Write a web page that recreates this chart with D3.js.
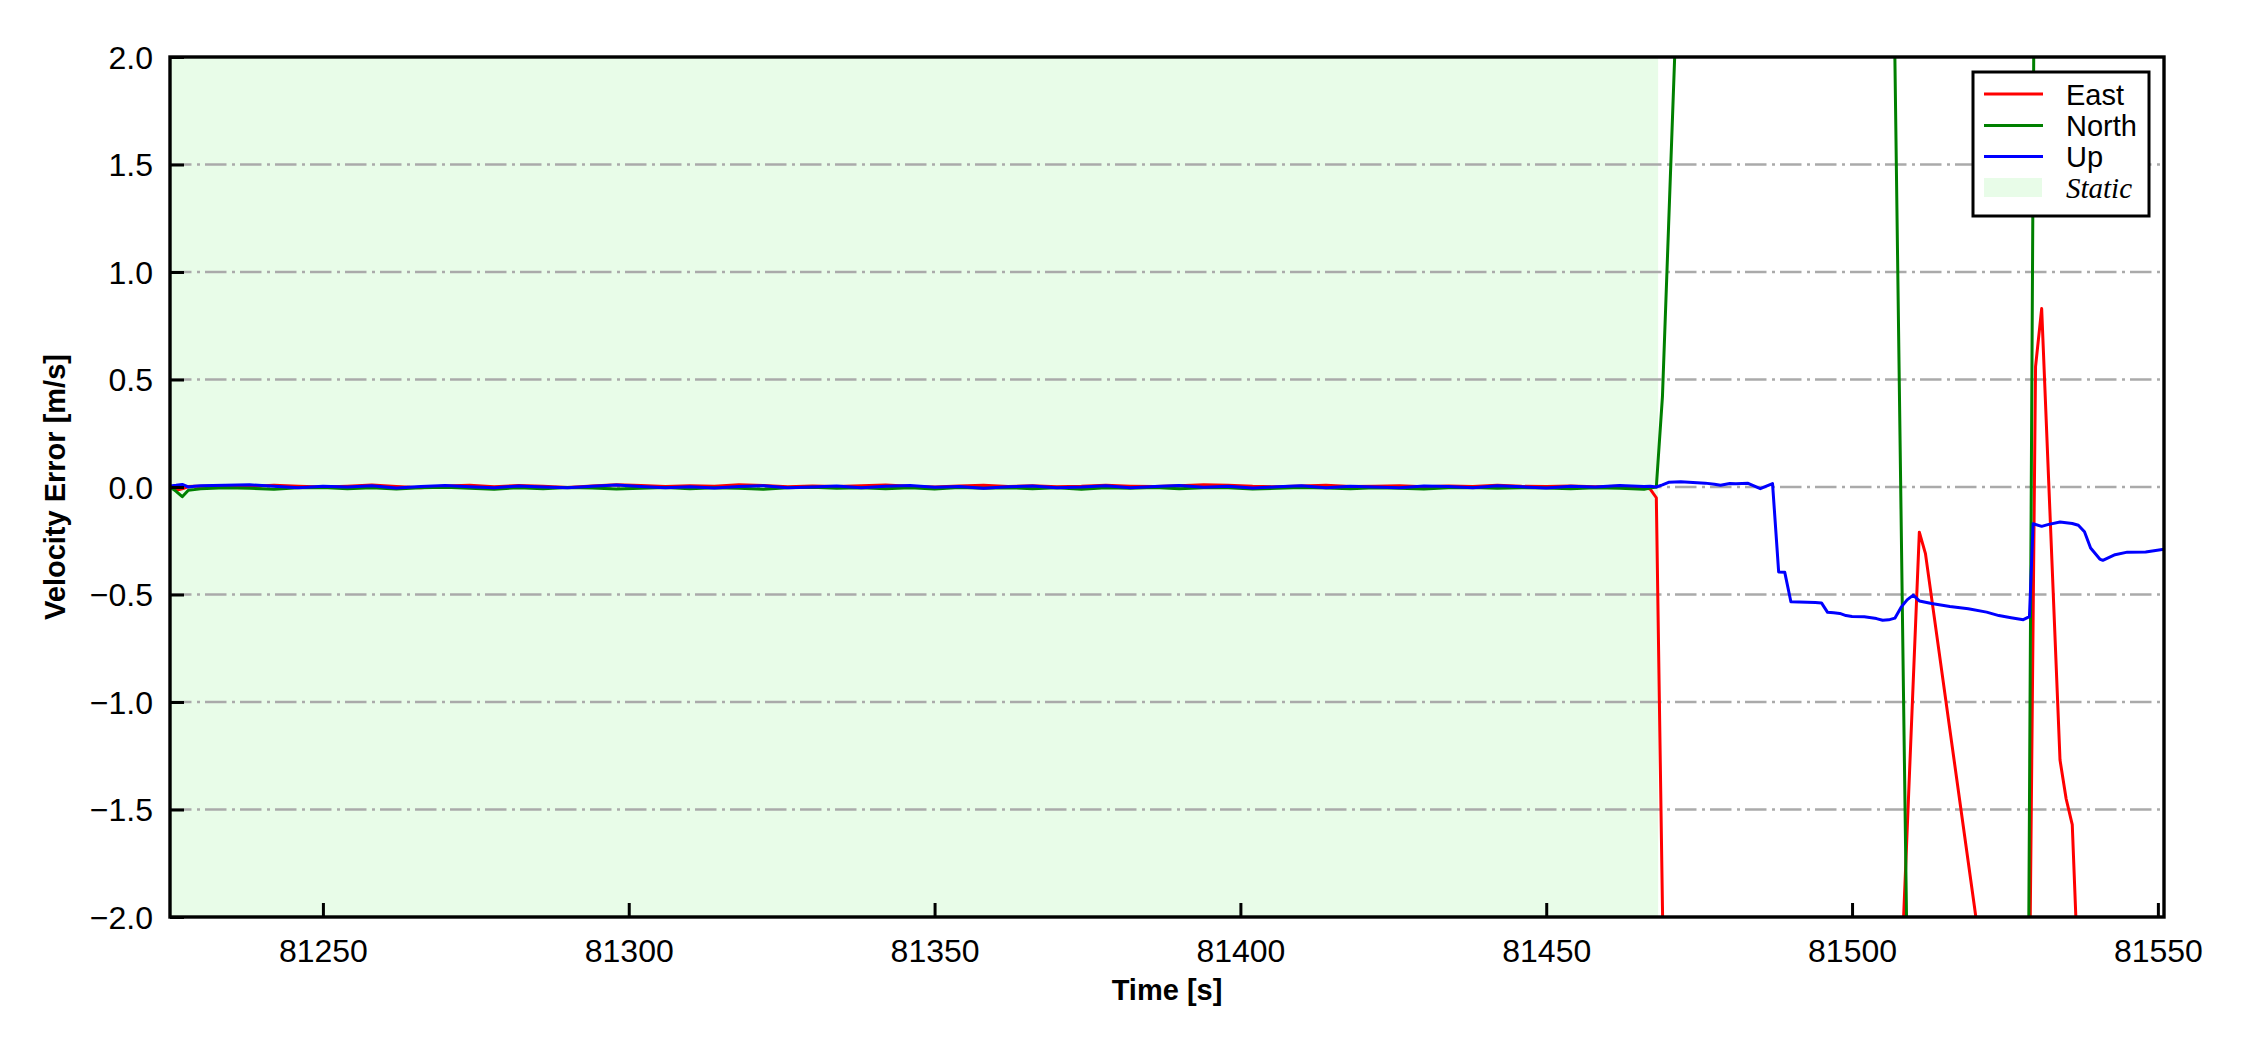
<!DOCTYPE html>
<html>
<head>
<meta charset="utf-8">
<script src="https://cdn.jsdelivr.net/npm/d3@7"></script>
<style>
  html, body { margin: 0; padding: 0; background: #ffffff; }
  svg { display: block; }
</style>
</head>
<body>
<svg id="chart" width="2250" height="1050"></svg>
<script>
// ---------------- DATA ----------------
const xTicks = [81250, 81300, 81350, 81400, 81450, 81500, 81550];
const yTicks = [-2.0, -1.5, -1.0, -0.5, 0.0, 0.5, 1.0, 1.5, 2.0];
const xDomain = [81225, 81551];
const yDomain = [-2, 2];
const staticSpan = [81225, 81468.3];

const seriesNames = ["East", "North", "Up"];
const seriesColors = ["#ff0000", "#008000", "#0000ff"];

// shared time stamps of the static (near-zero) part
const staticTime = [81225, 81226, 81227, 81228, 81229,
  81230, 81234, 81238, 81242, 81246, 81250, 81254, 81258, 81262, 81266,
  81270, 81274, 81278, 81282, 81286, 81290, 81294, 81298, 81302, 81306,
  81310, 81314, 81318, 81322, 81326, 81330, 81334, 81338, 81342, 81346,
  81350, 81354, 81358, 81362, 81366, 81370, 81374, 81378, 81382, 81386,
  81390, 81394, 81398, 81402, 81406, 81410, 81414, 81418, 81422, 81426,
  81430, 81434, 81438, 81442, 81446, 81450, 81454, 81458, 81462, 81466];

const eastStatic = [0.000, -0.015, -0.008, 0.002, 0.004,
  0.003, 0.006, 0.002, 0.008, 0.004, 0.000, 0.004, 0.009, 0.002, -0.003,
  0.005, 0.008, 0.001, 0.007, 0.003, -0.002, 0.005, 0.010, 0.007, 0.002,
  0.006, 0.003, 0.011, 0.007, 0.001, 0.005, 0.002, 0.006, 0.009, 0.003,
  0.000, 0.005, 0.008, 0.002, 0.006, 0.001, 0.003, 0.008, 0.004, 0.002,
  0.006, 0.010, 0.008, 0.003, 0.001, 0.005, 0.008, 0.002, 0.003, 0.006,
  0.001, 0.005, 0.002, 0.008, 0.003, 0.002, 0.005, 0.001, 0.003, -0.002];

const northStatic = [0.000, -0.020, -0.045, -0.015, -0.012,
  -0.008, -0.003, -0.006, -0.010, -0.004, -0.002, -0.008, -0.003, -0.009, -0.004,
  -0.001, -0.006, -0.010, -0.003, -0.008, -0.002, -0.005, -0.009, -0.006, -0.002,
  -0.008, -0.003, -0.006, -0.010, -0.004, -0.001, -0.006, -0.003, -0.008, -0.004,
  -0.009, -0.002, -0.006, -0.003, -0.008, -0.004, -0.010, -0.003, -0.006, -0.002,
  -0.008, -0.004, -0.003, -0.009, -0.006, -0.002, -0.005, -0.008, -0.003, -0.006,
  -0.009, -0.004, -0.002, -0.006, -0.003, -0.005, -0.008, -0.003, -0.006, -0.010];

const upStatic = [0.005, 0.008, 0.012, 0.000, 0.004,
  0.006, 0.008, 0.010, 0.004, -0.003, 0.003, 0.000, 0.006, -0.005, 0.002,
  0.007, 0.001, -0.004, 0.005, 0.000, -0.003, 0.003, 0.009, 0.002, -0.004,
  0.001, -0.005, 0.002, 0.006, -0.003, 0.000, 0.005, -0.004, 0.003, 0.007,
  -0.001, 0.002, -0.006, 0.001, 0.005, -0.003, 0.000, 0.006, -0.004, 0.002,
  0.007, -0.001, 0.003, -0.005, 0.001, 0.006, -0.003, 0.003, 0.000, -0.004,
  0.005, 0.002, -0.003, 0.006, 0.001, -0.005, 0.003, 0.000, 0.007, 0.002];

// dynamic part (after the static period)
const eastTime = [81467, 81468, 81469, 81470, 81490, 81508, 81511, 81512, 81520, 81521,
  81524, 81528, 81529, 81530, 81531, 81534, 81535, 81536, 81537, 81545, 81551];
const eastVal  = [-0.01, -0.05, -1.95, -3.9, -4.5, -2.3, -0.21, -0.31, -1.95, -2.16,
  -2.8, -3.1, -2.4, 0.56, 0.83, -1.27, -1.45, -1.57, -2.3, -3.2, -3.5];

const northTime = [81467, 81468, 81469, 81470, 81471, 81472, 81480, 81495, 81506, 81507,
  81509, 81510, 81520, 81528, 81530, 81531, 81551];
const northVal  = [-0.005, 0.0, 0.42, 1.21, 2.0, 2.79, 4.0, 5.0, 4.1, 2.0,
  -2.2, -4.3, -5.0, -6.5, 3.5, 8.5, 9.0];

const upTime = [81467, 81468, 81469, 81470, 81472, 81474, 81476, 81477.5, 81478.5, 81480,
  81481, 81483, 81485, 81487, 81488, 81489, 81490, 81494, 81495, 81496,
  81497, 81498, 81499, 81500, 81502, 81504, 81505, 81506, 81507, 81508,
  81509, 81510, 81511, 81513, 81516, 81519, 81522, 81524, 81526, 81528,
  81529, 81529.6, 81531, 81532, 81534, 81536, 81537, 81538, 81539, 81540.5,
  81541, 81543, 81545, 81548, 81551];
const upVal  = [0.004, 0.0, 0.01, 0.022, 0.024, 0.021, 0.018, 0.013, 0.008, 0.016,
  0.015, 0.017, -0.008, 0.016, -0.395, -0.397, -0.534, -0.537, -0.539, -0.583,
  -0.585, -0.588, -0.598, -0.602, -0.604, -0.612, -0.620, -0.618, -0.610, -0.560,
  -0.525, -0.503, -0.530, -0.542, -0.556, -0.566, -0.582, -0.598, -0.608, -0.617,
  -0.603, -0.171, -0.183, -0.175, -0.163, -0.170, -0.178, -0.208, -0.284, -0.335,
  -0.341, -0.315, -0.303, -0.302, -0.289];

// ---------------- BUILD ----------------
function zip(t, v) { return t.map((d, i) => [d, v[i]]); }
const series = [
  zip(staticTime, eastStatic).concat(zip(eastTime, eastVal)),
  zip(staticTime, northStatic).concat(zip(northTime, northVal)),
  zip(staticTime, upStatic).concat(zip(upTime, upVal))
];

const W = 2250, H = 1050;
const margin = { left: 170, right: 86, top: 57, bottom: 133 };
const svg = d3.select("#chart");

const x = d3.scaleLinear().domain(xDomain).range([margin.left, W - margin.right]);
const y = d3.scaleLinear().domain(yDomain).range([H - margin.bottom, margin.top]);

svg.append("defs").append("clipPath").attr("id", "plotclip")
  .append("rect")
  .attr("x", margin.left).attr("y", margin.top)
  .attr("width", W - margin.left - margin.right)
  .attr("height", H - margin.top - margin.bottom);

const staticColor = "#e8fce8";

// static span
svg.append("rect")
  .attr("clip-path", "url(#plotclip)")
  .attr("x", x(staticSpan[0]))
  .attr("y", margin.top)
  .attr("width", x(staticSpan[1]) - x(staticSpan[0]))
  .attr("height", H - margin.top - margin.bottom)
  .attr("fill", staticColor);

// grid lines
svg.append("g").selectAll("line")
  .data(yTicks.filter(d => d > yDomain[0] && d < yDomain[1]))
  .join("line")
  .attr("x1", margin.left).attr("x2", W - margin.right)
  .attr("y1", d => y(d)).attr("y2", d => y(d))
  .attr("stroke", "#aaaaaa")
  .attr("stroke-width", 2.6)
  .attr("stroke-dasharray", "21.5,5.5,3,5");

// lines
const line = d3.line().x(d => x(d[0])).y(d => y(d[1]));
const gLines = svg.append("g").attr("clip-path", "url(#plotclip)");
series.forEach((s, i) => {
  gLines.append("path")
    .datum(s)
    .attr("d", line)
    .attr("fill", "none")
    .attr("stroke", seriesColors[i])
    .attr("stroke-width", 3)
    .attr("stroke-linejoin", "round");
});

// axes
const fmtY = d => d3.format(".1f")(d).replace("-", "\u2212");
const xAxis = d3.axisBottom(x).tickValues(xTicks).tickFormat(d3.format("d"))
  .tickSizeInner(-14).tickSizeOuter(0).tickPadding(22);
const yAxis = d3.axisLeft(y).tickValues(yTicks).tickFormat(fmtY)
  .tickSizeInner(-14).tickSizeOuter(0).tickPadding(17);

const gx = svg.append("g").attr("transform", `translate(0,${H - margin.bottom})`).call(xAxis);
const gy = svg.append("g").attr("transform", `translate(${margin.left},0)`).call(yAxis);
[gx, gy].forEach(g => {
  g.select(".domain").remove();
  g.selectAll(".tick line").attr("stroke", "#000").attr("stroke-width", 3);
  g.selectAll(".tick text")
    .attr("font-family", "'Liberation Sans', Arial, sans-serif")
    .attr("font-size", 32)
    .attr("fill", "#000");
});
gx.selectAll(".tick text").attr("dy", "0.71em");
gy.selectAll(".tick text").attr("dy", "0.35em");

// frame
svg.append("rect")
  .attr("x", margin.left).attr("y", margin.top)
  .attr("width", W - margin.left - margin.right)
  .attr("height", H - margin.top - margin.bottom)
  .attr("fill", "none").attr("stroke", "#000").attr("stroke-width", 3.4);

// axis labels
svg.append("text")
  .attr("x", (margin.left + W - margin.right) / 2)
  .attr("y", 1000)
  .attr("text-anchor", "middle")
  .attr("font-family", "'Liberation Sans', Arial, sans-serif")
  .attr("font-weight", "bold").attr("font-size", 29)
  .text("Time [s]");

svg.append("text")
  .attr("transform", `translate(65,${(margin.top + H - margin.bottom) / 2}) rotate(-90)`)
  .attr("text-anchor", "middle")
  .attr("font-family", "'Liberation Sans', Arial, sans-serif")
  .attr("font-weight", "bold").attr("font-size", 29)
  .text("Velocity Error [m/s]");

// legend
const lg = svg.append("g");
lg.append("rect")
  .attr("x", 1973).attr("y", 72).attr("width", 176).attr("height", 144)
  .attr("fill", "#fff").attr("stroke", "#000").attr("stroke-width", 3);
const rowY = [94, 125.5, 156.5, 187.5];
seriesNames.forEach((n, i) => {
  lg.append("line")
    .attr("x1", 1984).attr("x2", 2043)
    .attr("y1", rowY[i]).attr("y2", rowY[i])
    .attr("stroke", seriesColors[i]).attr("stroke-width", 3);
  lg.append("text")
    .attr("x", 2066).attr("y", rowY[i] + 10.5)
    .attr("font-family", "'Liberation Sans', Arial, sans-serif")
    .attr("font-size", 29)
    .text(n);
});
lg.append("rect")
  .attr("x", 1984).attr("y", 178).attr("width", 58).attr("height", 19)
  .attr("fill", staticColor);
lg.append("text")
  .attr("x", 2066).attr("y", rowY[3] + 10.5)
  .attr("font-family", "'Liberation Serif', 'Times New Roman', serif")
  .attr("font-style", "italic")
  .attr("font-size", 29)
  .text("Static");
</script>
</body>
</html>
